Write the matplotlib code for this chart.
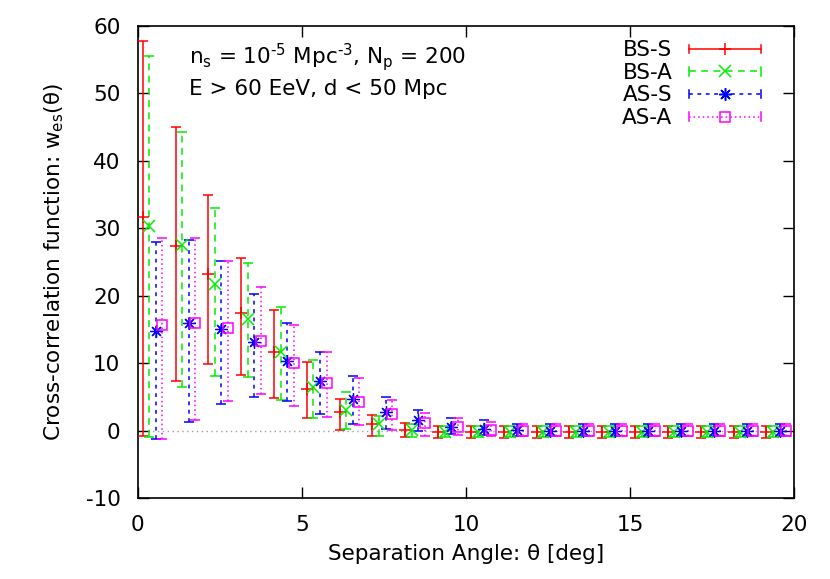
import numpy as np
import matplotlib
matplotlib.use("Agg")
import matplotlib.pyplot as plt
from matplotlib.lines import Line2D
from matplotlib.legend_handler import HandlerBase

plt.rcParams['font.family'] = ['DejaVu Sans']
plt.rcParams['mathtext.fontset'] = 'dejavusans'
plt.rcParams['mathtext.default'] = 'regular'
plt.rcParams['axes.unicode_minus'] = False

FS = 15.5

# ---------------- data ----------------
bins = np.arange(20)  # bin index (1-degree bins)

labels = ["BS-S", "BS-A", "AS-S", "AS-A"]

bss_val = [31.7, 27.4, 23.2, 17.4, 11.6, 6.2, 2.7, 1.0, 0.15, -0.2, -0.2, -0.2, -0.2, -0.2, -0.2, -0.2, -0.2, -0.2, -0.2, -0.2]
bss_hi  = [57.8, 45.0, 35.0, 25.6, 17.9, 10.2, 4.7, 2.3, 1.1, 0.7, 0.65, 0.65, 0.65, 0.65, 0.65, 0.65, 0.65, 0.65, 0.65, 0.65]
bss_lo  = [-0.8, 7.4, 9.8, 8.3, 4.8, 1.9, 0.15, -0.85, -1.0, -1.05, -1.05, -1.05, -1.05, -1.05, -1.05, -1.05, -1.05, -1.05, -1.05, -1.05]

bsa_val = [30.4, 27.5, 21.8, 16.5, 11.6, 6.5, 3.1, 0.9, 0.05, -0.2, -0.2, -0.2, -0.2, -0.2, -0.2, -0.2, -0.2, -0.2, -0.2, -0.2]
bsa_hi  = [55.5, 44.3, 33.0, 24.8, 18.3, 10.5, 5.7, 2.1, 1.0, 0.6, 0.6, 0.6, 0.6, 0.6, 0.6, 0.6, 0.6, 0.6, 0.6, 0.6]
bsa_lo  = [-1.0, 6.5, 8.1, 7.95, 4.6, 1.9, 0.25, -0.85, -1.0, -1.0, -1.0, -1.0, -1.0, -1.0, -1.0, -1.0, -1.0, -1.0, -1.0, -1.0]

ass_val = [14.8, 16.0, 15.05, 13.1, 10.3, 7.35, 4.7, 2.7, 1.6, 0.55, 0.3, 0.05, 0.0, 0.0, 0.0, 0.0, 0.0, 0.0, 0.0, 0.0]
ass_hi  = [28.0, 28.2, 25.1, 20.3, 15.9, 11.7, 8.1, 4.9, 3.1, 1.9, 1.5, 1.0, 0.9, 0.9, 0.9, 0.9, 0.9, 0.9, 0.9, 0.9]
ass_lo  = [-1.3, 1.25, 3.9, 4.9, 4.4, 2.4, 0.9, 0.25, -0.1, -0.5, -0.6, -0.8, -0.85, -0.85, -0.85, -0.85, -0.85, -0.85, -0.85, -0.85]

asa_val = [15.7, 16.0, 15.2, 13.3, 10.0, 7.1, 4.2, 2.4, 1.1, 0.45, 0.05, 0.0, 0.0, 0.0, 0.0, 0.0, 0.0, 0.0, 0.0, 0.0]
asa_hi  = [28.5, 28.5, 25.1, 21.3, 15.7, 11.7, 7.85, 4.5, 2.6, 1.8, 1.2, 0.9, 0.9, 0.9, 0.9, 0.9, 0.9, 0.9, 0.9, 0.9]
asa_lo  = [-1.3, 1.5, 4.4, 5.4, 3.6, 2.0, 0.75, 0.05, -0.85, -0.7, -0.8, -0.8, -0.85, -0.85, -0.85, -0.85, -0.85, -0.85, -0.85, -0.85]

offsets = [0.15, 0.35, 0.55, 0.75]
colors = ["#ff0000", "#00ee00", "#0000ff", "#ff00ff"]
styles = ["-", (0, (4.5, 3.5)), (0, (2.5, 3.0)), (0, (1.0, 2.0))]
markers = ["+", "x", (8, 2, 0), "s"]
msizes = [8, 8, 9, 7.5]

series = [(bss_val, bss_lo, bss_hi), (bsa_val, bsa_lo, bsa_hi),
          (ass_val, ass_lo, ass_hi), (asa_val, asa_lo, asa_hi)]

# ---------------- figure ----------------
fig = plt.figure(figsize=(8.30, 5.79), dpi=100)
ax = fig.add_axes([0.166, 0.140, 0.791, 0.815])

ax.axhline(0, color="#a0a0a0", lw=1.0, ls=(0, (1, 2.5)), zorder=1)

lw = 1.1
for (v, lo, hi), off, c, ls, m, ms, lab in zip(series, offsets, colors, styles, markers, msizes, labels):
    x = bins + off
    v = np.array(v); lo = np.array(lo); hi = np.array(hi)
    yerr = np.vstack([v - lo, hi - v])
    eb = ax.errorbar(x, v, yerr=yerr, fmt='none', ecolor=c, elinewidth=lw,
                     capsize=3.8, capthick=lw, zorder=3)
    eb.lines[2][0].set_linestyle(ls)
    ax.plot(x, v, ls='none', marker=m, ms=ms, color=c, mfc='none', mew=0.9 if m == (8, 2, 0) else lw,
            zorder=4)

ax.set_xlim(0, 20)
ax.set_ylim(-10, 60)
ax.set_xticks([0, 5, 10, 15, 20])
ax.set_yticks(np.arange(-10, 61, 10))
ax.tick_params(direction='in', length=8, width=1.0, top=True, right=True,
               labelsize=FS)
ax.tick_params(axis='y', pad=12.5)
ax.tick_params(axis='x', pad=12)
for s in ax.spines.values():
    s.set_linewidth(1.2)

ax.set_xlabel("Separation Angle: θ [deg]", fontsize=FS, labelpad=7)
ax.set_ylabel("Cross-correlation function: $w_{es}$(θ)", fontsize=FS, labelpad=14)

ax.text(0.078, 0.935, r"$n_s$ = 10$^{\text{-5}}$ Mpc$^{\text{-3}}$, $N_p$ = 200", transform=ax.transAxes,
        fontsize=FS, va='center', ha='left')
ax.text(0.078, 0.866, "E > 60 EeV, d < 50 Mpc", transform=ax.transAxes,
        fontsize=FS, va='center', ha='left')


class HandlerGnuErr(HandlerBase):
    def create_artists(self, legend, orig_handle, xdescent, ydescent,
                       width, height, fontsize, trans):
        c = orig_handle.get_color()
        y = (height - ydescent) / 2.0
        x0, x1 = -xdescent, width - xdescent
        cap = 0.28 * height
        line = Line2D([x0, x1], [y, y], color=c, lw=lw)
        line.set_linestyle(orig_handle._gnu_ls)
        c0 = Line2D([x0, x0], [y - cap, y + cap], color=c, lw=lw)
        c1 = Line2D([x1, x1], [y - cap, y + cap], color=c, lw=lw)
        mk = Line2D([(x0 + x1) / 2], [y], ls='none', marker=orig_handle.get_marker(),
                    ms=orig_handle.get_markersize(), color=c, mfc='none', mew=lw)
        arts = [line, c0, c1, mk]
        for a in arts:
            a.set_transform(trans)
        return arts


handles = []
for c, ls, m, ms in zip(colors, styles, markers, msizes):
    h = Line2D([], [], color=c, marker=m, ms=ms)
    h._gnu_ls = ls
    handles.append(h)

leg = ax.legend(handles, labels, loc='upper right', bbox_to_anchor=(0.962, 0.988),
                frameon=False, markerfirst=False, fontsize=FS, handlelength=3.35,
                handletextpad=0.75, labelspacing=0.12, borderaxespad=0.0,
                handler_map={Line2D: HandlerGnuErr()})

fig.savefig("out.png", dpi=100)
